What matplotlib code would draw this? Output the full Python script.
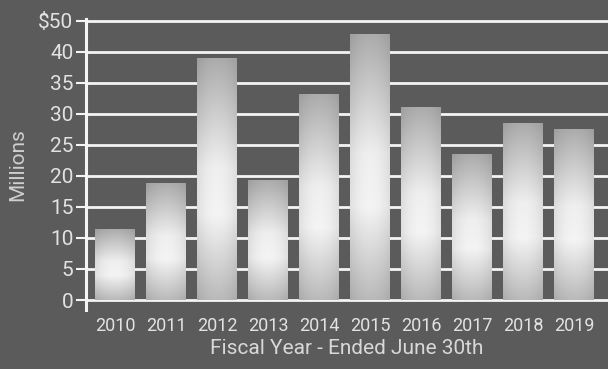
import numpy as np
import matplotlib
matplotlib.use("Agg")
import matplotlib.pyplot as plt
from matplotlib.colors import LinearSegmentedColormap

years = ["2010", "2011", "2012", "2013", "2014", "2015", "2016", "2017", "2018", "2019"]
values = [11.4, 18.7, 38.9, 19.2, 33.1, 42.7, 31.0, 23.5, 28.5, 27.5]
ytick_vals = [0, 5, 10, 15, 20, 25, 30, 35, 40, 45]
ytick_labels = ["0", "5", "10", "15", "20", "25", "30", "35", "40", "$50"]

bg = "#5b5b5b"
txt = "#e2e2e2"
plt.rcParams["font.family"] = ["Liberation Sans Narrow", "Roboto", "DejaVu Sans"]

fig = plt.figure(figsize=(6.08, 3.69), dpi=100, facecolor=bg)
ax = fig.add_axes([0.1414, 0.16, 0.8586, 0.789], facecolor=bg)

# bar shading: grey at top and bottom, near white in the lower middle
bar_cmap = LinearSegmentedColormap.from_list(
    "bar", [(0.0, "#bababa"), (0.35, "#f4f4f4"), (0.55, "#efefef"), (1.0, "#acacac")])
grad_v = np.linspace(0, 1, 200)[:, None]
grad_h = 1 - 0.08 * np.abs(np.linspace(-1, 1, 40))[None, :] ** 2
width = 0.78
for i, v in enumerate(values):
    img = bar_cmap(grad_v)[:, :, :3] * grad_h[:, :, None]
    ax.imshow(img, extent=(i - width / 2, i + width / 2, 0, v), origin="lower",
              aspect="auto", zorder=3, interpolation="bilinear")

for t in ytick_vals:
    ax.axhline(t, color="#f4f4f4", lw=2.0, zorder=1)

ax.set_xlim(-0.576, 9.66)
ax.set_ylim(-1.6, 45.3)
ax.set_yticks(ytick_vals)
ax.set_yticklabels(ytick_labels)
ax.set_xticks(range(len(years)))
ax.set_xticklabels(years)
ax.tick_params(axis="y", colors=txt, labelsize=15, length=7, width=1.5,
               color="#f4f4f4", pad=2)
ax.tick_params(axis="x", colors=txt, labelsize=13, length=0, pad=5)

for s in ["top", "right", "bottom"]:
    ax.spines[s].set_visible(False)
ax.spines["left"].set_color("#f4f4f4")
ax.spines["left"].set_linewidth(2.2)
ax.spines["left"].set_zorder(4)

ax.set_xlabel("Fiscal Year - Ended June 30th", color="#d8d8d8", fontsize=15, labelpad=3)
ax.set_ylabel("Millions", color="#cfcfcf", fontsize=15, labelpad=8)

fig.savefig("out.png", dpi=100, facecolor=bg)
